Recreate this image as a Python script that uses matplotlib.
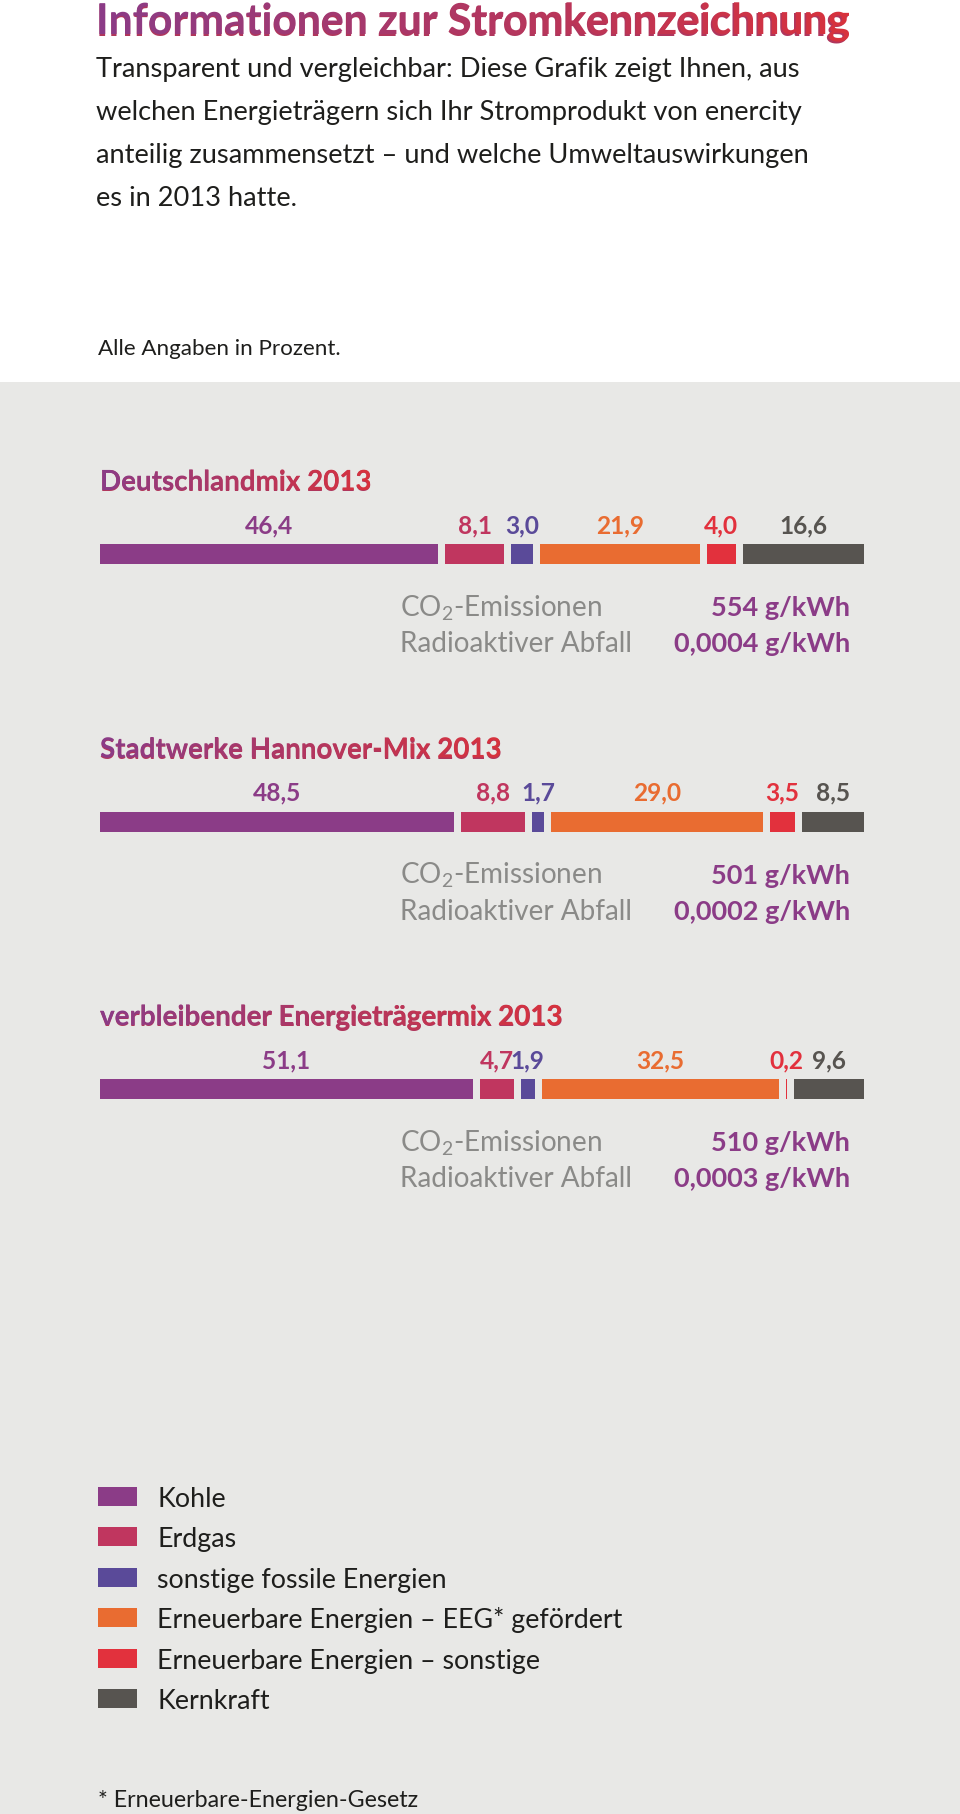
import numpy as np
import matplotlib
matplotlib.use("Agg")
import matplotlib.pyplot as plt
from matplotlib.patches import Rectangle, PathPatch
from matplotlib.textpath import TextPath
from matplotlib.font_manager import FontProperties
from matplotlib.transforms import Affine2D
from matplotlib.colors import LinearSegmentedColormap

# ---------------------------------------------------------------------------
# Daten
# ---------------------------------------------------------------------------
categories = [
    "Kohle",
    "Erdgas",
    "sonstige fossile Energien",
    "Erneuerbare Energien – EEG* gefördert",
    "Erneuerbare Energien – sonstige",
    "Kernkraft",
]
mix_names = [
    "Deutschlandmix 2013",
    "Stadtwerke Hannover-Mix 2013",
    "verbleibender Energieträgermix 2013",
]
deutschland = [46.4, 8.1, 3.0, 21.9, 4.0, 16.6]
hannover = [48.5, 8.8, 1.7, 29.0, 3.5, 8.5]
verbleibend = [51.1, 4.7, 1.9, 32.5, 0.2, 9.6]
co2_g_kwh = [554, 501, 510]
abfall_g_kwh = [0.0004, 0.0002, 0.0003]

title = "Informationen zur Stromkennzeichnung"
intro = [
    "Transparent und vergleichbar: Diese Grafik zeigt Ihnen, aus",
    "welchen Energieträgern sich Ihr Stromprodukt von enercity",
    "anteilig zusammensetzt – und welche Umweltauswirkungen",
    "es in 2013 hatte.",
]
unit_note = "Alle Angaben in Prozent."
footnote = "* Erneuerbare-Energien-Gesetz"

# ---------------------------------------------------------------------------
# Stil
# ---------------------------------------------------------------------------
COLORS = ["#8B3C87", "#C0365F", "#5A4A99", "#E96C31", "#E2313D", "#575450"]
PURPLE = "#8B3C87"
RED = "#D8323D"
GREY_BG = "#E8E8E6"
TEXT = "#1E1E1C"
LABEL_GREY = "#8A8A88"

DPI = 100
W, H = 960, 1815
FONT = "Lato"

plt.rcParams["font.family"] = [FONT, "DejaVu Sans"]
plt.rcParams["mathtext.fontset"] = "custom"
plt.rcParams["mathtext.rm"] = FONT
plt.rcParams["mathtext.it"] = FONT
plt.rcParams["mathtext.bf"] = FONT + ":bold"


def fit_size(s, width_px, weight="normal"):
    # Schriftgröße (pt), bei der der Text ungefähr width_px breit ist
    fp = FontProperties(family=FONT, weight=weight)
    w = TextPath((0, 0), s, size=100, prop=fp).get_extents().width
    return 100 * width_px / w * 72 / DPI


def fmt(v, nd=1):
    return f"{v:.{nd}f}".replace(".", ",")


fig = plt.figure(figsize=(W / DPI, H / DPI), dpi=DPI)
ax = fig.add_axes([0, 0, 1, 1])
ax.set_xlim(0, W)
ax.set_ylim(H, 0)
ax.axis("off")

grad_cmap = LinearSegmentedColormap.from_list("titel", [PURPLE, RED])


def gradient_text(x, y, s, size_pt):
    # echter Text darunter, Farbverlauf darüber (auf die Glyphen beschnitten)
    ax.text(x, y, s, fontsize=size_pt, fontweight="bold", color="#B0365C",
            ha="left", va="baseline")
    px = size_pt * DPI / 72
    tp = TextPath((0, 0), s, size=px, prop=FontProperties(family=FONT, weight="bold"))
    path = Affine2D().scale(1, -1).translate(x, y).transform_path(tp)
    patch = PathPatch(path, facecolor="none", edgecolor="none")
    ax.add_patch(patch)
    ext = path.get_extents()
    im = ax.imshow(np.linspace(0, 1, 256)[None, :], cmap=grad_cmap,
                   extent=(ext.x0, ext.x1, ext.y1, ext.y0), aspect="auto",
                   interpolation="bilinear", zorder=4)
    im.set_clip_path(patch)


# Hintergrund
ax.add_patch(Rectangle((0, 383), W, H - 383, facecolor=GREY_BG, edgecolor="none", zorder=0))

# Kopf
gradient_text(96, 35, title, fit_size(title, 750, "bold"))
body_size = fit_size(intro[0], 705)
for i, line in enumerate(intro):
    ax.text(96, 77 + 43 * i, line, fontsize=body_size, color=TEXT, ha="left", va="baseline")
ax.text(98, 355, unit_note, fontsize=fit_size(unit_note, 241), color=TEXT,
        ha="left", va="baseline")

# Balken
mixes = [deutschland, hannover, verbleibend]
GAP = 0.96
sec_size = fit_size(mix_names[0], 268, "bold")
val_size = fit_size("16,6", 46, "bold")
lab_size = fit_size("Radioaktiver Abfall", 227)
res_size = fit_size("0,0004 g/kWh", 175, "bold")

for i, (name, vals) in enumerate(zip(mix_names, mixes)):
    dy = 267.5 * i
    gradient_text(100, 491 + dy, name, sec_size)

    bar_top = 545 + dy
    bax = fig.add_axes([100 / W, 1 - (bar_top + 20) / H, 764 / W, 20 / H])
    lefts = np.concatenate([[0], np.cumsum(vals[:-1])]) + GAP * np.arange(len(vals))
    bax.barh(0, vals, left=lefts, height=1, color=COLORS, linewidth=0)
    bax.set_xlim(0, 100 + GAP * (len(vals) - 1))
    bax.set_ylim(-0.5, 0.5)
    bax.axis("off")
    for l, v, c in zip(lefts, vals, COLORS):
        bax.text(l + v / 2, 0.5 + 12 / 20, fmt(v), fontsize=val_size, fontweight="bold",
                 color=c, ha="center", va="baseline")

    ax.text(400, 616 + dy, "CO$_{\\mathregular{2}}$-Emissionen", fontsize=lab_size,
            color=LABEL_GREY, ha="left", va="baseline")
    ax.text(400, 652 + dy, "Radioaktiver Abfall", fontsize=lab_size,
            color=LABEL_GREY, ha="left", va="baseline")
    ax.text(850, 616 + dy, f"{co2_g_kwh[i]} g/kWh", fontsize=res_size, fontweight="bold",
            color=PURPLE, ha="right", va="baseline")
    ax.text(850, 652 + dy, f"{fmt(abfall_g_kwh[i], 4)} g/kWh", fontsize=res_size,
            fontweight="bold", color=PURPLE, ha="right", va="baseline")

# Legende
leg_size = fit_size(categories[3], 461)
for i, (cat, c) in enumerate(zip(categories, COLORS)):
    top = 1488 + 40.4 * i
    ax.add_patch(Rectangle((98, top), 39, 19, facecolor=c, edgecolor="none"))
    ax.text(157, top + 19, cat, fontsize=leg_size, color=TEXT, ha="left", va="baseline")

ax.text(98, 1807, footnote, fontsize=fit_size(footnote, 318), color=TEXT,
        ha="left", va="baseline")

fig.savefig("out.png", dpi=DPI)
